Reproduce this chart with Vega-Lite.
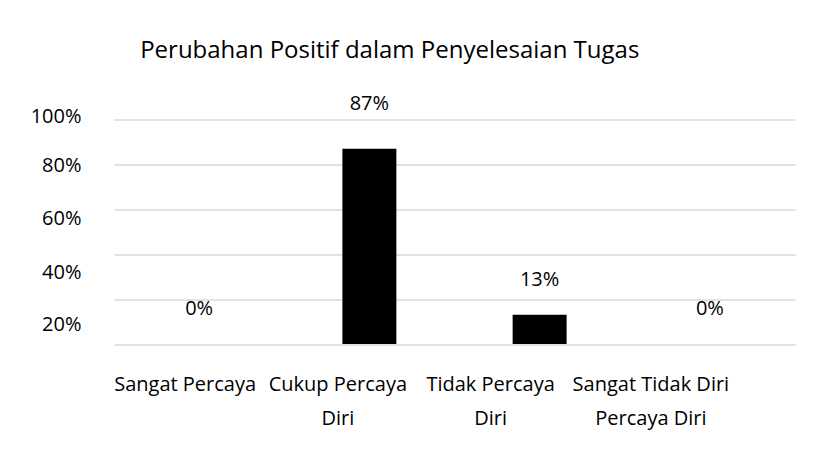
{
  "$schema": "https://vega.github.io/schema/vega-lite/v6.json",
  "width": 681,
  "height": 224.5,
  "autosize": "none",
  "padding": {"left": 114, "top": 119.5, "right": 23, "bottom": 112},
  "background": "white",
  "config": {"view": {"stroke": null}, "font": "Open Sans"},
  "title": {
    "text": "Perubahan Positif dalam Penyelesaian Tugas",
    "anchor": "start",
    "dx": 110,
    "fontSize": 24,
    "fontWeight": "normal",
    "color": "#000000",
    "font": "Open Sans",
    "baseline": "alphabetic",
    "offset": 12
  },
  "data": {
    "values": [
      {"kategori": "Sangat Percaya Diri", "persen": 0},
      {"kategori": "Cukup Percaya Diri", "persen": 0.87},
      {"kategori": "Tidak Percaya Diri", "persen": 0.13},
      {"kategori": "Sangat Tidak Percaya Diri", "persen": 0}
    ]
  },
  "encoding": {
    "x": {
      "field": "kategori",
      "type": "nominal",
      "sort": null,
      "scale": {"paddingInner": 0.683, "paddingOuter": 0.3415},
      "axis": {
        "title": null,
        "domain": false,
        "ticks": false,
        "labelAngle": 0,
        "labelPadding": 30,
        "labelFontSize": 20,
        "labelFont": "Open Sans",
        "labelColor": "#000000",
        "labelLineHeight": 34,
        "labelLimit": 0,
        "labelBaseline": "top",
        "labelExpr": "datum.value == 'Sangat Percaya Diri' ? 'Sangat Percaya' : datum.value == 'Cukup Percaya Diri' ? ['Cukup Percaya', 'Diri'] : datum.value == 'Tidak Percaya Diri' ? ['Tidak Percaya', 'Diri'] : ['Sangat Tidak Diri', 'Percaya Diri']",
        "labelOffset": {
          "condition": [
            {"test": "datum.value == 'Sangat Percaya Diri'", "value": -14},
            {"test": "datum.value == 'Cukup Percaya Diri'", "value": -31.5},
            {"test": "datum.value == 'Tidak Percaya Diri'", "value": -49}
          ],
          "value": -59
        }
      }
    },
    "y": {
      "field": "persen",
      "type": "quantitative",
      "scale": {"domain": [0, 1]},
      "axis": {
        "title": null,
        "values": [0, 0.2, 0.4, 0.6, 0.8, 1],
        "format": ".0%",
        "labelExpr": "datum.value == 0 ? '' : datum.label",
        "domain": false,
        "ticks": false,
        "gridColor": "#d9d9d9",
        "gridWidth": 1.3,
        "labelPadding": 33,
        "labelFontSize": 20,
        "labelFont": "Open Sans",
        "labelColor": "#000000",
        "labelOffset": {
          "condition": [
            {"test": "datum.value == 1", "value": -3.5},
            {"test": "datum.value == 0.8", "value": 1},
            {"test": "datum.value == 0.6", "value": 9},
            {"test": "datum.value == 0.4", "value": 18},
            {"test": "datum.value == 0.2", "value": 25}
          ],
          "value": 0
        }
      }
    }
  },
  "layer": [
    {"mark": {"type": "bar", "color": "#000000"}},
    {
      "mark": {
        "type": "text",
        "baseline": "alphabetic",
        "font": "Open Sans",
        "fontSize": 20,
        "color": "#000000",
        "dy": {"expr": "datum.persen > 0.5 ? -39 : -29"}
      },
      "encoding": {"text": {"field": "persen", "type": "quantitative", "format": ".0%"}}
    }
  ]
}
